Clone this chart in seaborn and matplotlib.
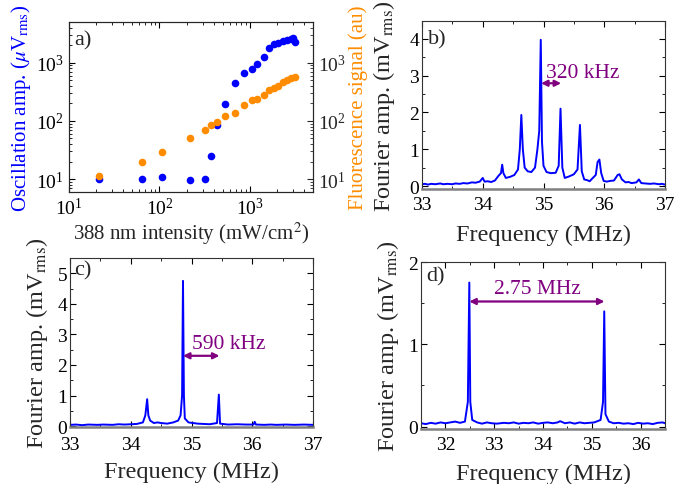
import numpy as np
import pandas as pd
import matplotlib
matplotlib.use("Agg")
import matplotlib.pyplot as plt
from matplotlib.ticker import MultipleLocator
import seaborn as sns

# ---------------- data ----------------
# panel a
intensity = [21.7, 65, 108, 217, 321, 369, 437, 537, 687, 865, 1045, 1209,
             1432, 1641, 1864, 2064, 2305, 2554, 2855, 3030, 3162]
osc_amp = [10, 10, 10.7, 9.6, 10, 25, 84, 196, 452, 654, 788, 935,
           1253, 1790, 2128, 2212, 2329, 2492, 2594, 2697, 2276]
fluo_int = [21.7, 65, 108, 217, 321, 369, 437, 537, 687, 865, 1045, 1209,
            1432, 1641, 1864, 2064, 2305, 2554, 2855, 3162]
fluo_sig = [11.1, 19.4, 29.2, 50.9, 70.8, 85, 97, 120, 139, 186, 230, 239,
            284, 338, 371, 396, 457, 509, 545, 574]

# panel b spectrum (MHz, mV rms)
freq_b = [33.00, 33.05, 33.10, 33.15, 33.22, 33.30, 33.35, 33.42, 33.50, 33.55,
          33.62, 33.68, 33.75, 33.82, 33.88, 33.95, 34.00, 34.03, 34.08, 34.14,
          34.20, 34.26, 34.30, 34.32, 34.34, 34.38, 34.45, 34.52, 34.58, 34.61,
          34.635, 34.66, 34.69, 34.74, 34.80, 34.86, 34.90, 34.93, 34.955, 34.975,
          35.00, 35.05, 35.12, 35.20, 35.25, 35.28, 35.31, 35.35, 35.42, 35.50,
          35.56, 35.60, 35.63, 35.67, 35.72, 35.76, 35.80, 35.86, 35.89, 35.92,
          35.95, 35.99, 36.04, 36.10, 36.16, 36.22, 36.25, 36.29, 36.35, 36.40,
          36.45, 36.53, 36.57, 36.61, 36.68, 36.75, 36.82, 36.90, 36.95, 37.00]
amp_b = [0.05, 0.06, 0.04, 0.06, 0.05, 0.07, 0.05, 0.06, 0.05, 0.07,
         0.06, 0.08, 0.07, 0.10, 0.09, 0.12, 0.22, 0.12, 0.13, 0.11,
         0.15, 0.28, 0.35, 0.58, 0.35, 0.22, 0.25, 0.30, 0.45, 1.00,
         1.93, 1.00, 0.50, 0.40, 0.38, 0.50, 1.00, 1.50, 3.97, 1.20,
         0.55, 0.38, 0.35, 0.36, 0.55, 2.10, 0.50, 0.22, 0.26, 0.32,
         0.45, 1.66, 0.40, 0.18, 0.16, 0.13, 0.20, 0.30, 0.65, 0.72,
         0.35, 0.14, 0.12, 0.14, 0.15, 0.30, 0.32, 0.18, 0.10, 0.11,
         0.08, 0.10, 0.18, 0.08, 0.07, 0.06, 0.07, 0.05, 0.06, 0.04]

# panel c spectrum
freq_c = [33.0, 33.1, 33.2, 33.3, 33.45, 33.55, 33.7, 33.8, 33.9, 34.0, 34.1,
          34.2, 34.24, 34.27, 34.29, 34.32, 34.38, 34.44, 34.5, 34.6, 34.7,
          34.78, 34.82, 34.845, 34.86, 34.875, 34.89, 34.95, 35.1, 35.2, 35.3,
          35.42, 35.45, 35.47, 35.6, 35.75, 35.9, 36.02, 36.04, 36.06, 36.2,
          36.3, 36.4, 36.55, 36.7, 36.85, 37.0]
amp_c = [0.04, 0.05, 0.03, 0.05, 0.04, 0.05, 0.04, 0.06, 0.05, 0.06, 0.07,
         0.12, 0.35, 0.88, 0.35, 0.18, 0.10, 0.12, 0.10, 0.08, 0.12,
         0.18, 0.35, 1.00, 4.75, 1.00, 0.25, 0.12, 0.08, 0.07, 0.06,
         0.10, 1.03, 0.08, 0.05, 0.06, 0.05, 0.05, 0.14, 0.05, 0.04,
         0.05, 0.04, 0.05, 0.04, 0.05, 0.04]

# panel d spectrum
freq_d = [31.5, 31.6, 31.7, 31.8, 31.9, 32.0, 32.1, 32.2, 32.3, 32.4, 32.46,
          32.49, 32.51, 32.55, 32.65, 32.75, 32.85, 32.95, 33.05, 33.2, 33.3,
          33.4, 33.5, 33.6, 33.7, 33.8, 33.9, 34.0, 34.1, 34.2, 34.3, 34.35,
          34.45, 34.55, 34.65, 34.75, 34.85, 34.95, 35.05, 35.18, 35.23, 35.255,
          35.28, 35.35, 35.45, 35.55, 35.65, 35.75, 35.85, 35.95, 36.05, 36.15,
          36.25, 36.35, 36.45, 36.5]
amp_d = [0.04, 0.03, 0.045, 0.035, 0.05, 0.04, 0.05, 0.06, 0.045, 0.06, 0.30,
         1.75, 0.30, 0.08, 0.05, 0.035, 0.05, 0.04, 0.035, 0.045, 0.04,
         0.05, 0.035, 0.045, 0.04, 0.05, 0.035, 0.045, 0.05, 0.04, 0.05, 0.065,
         0.04, 0.05, 0.035, 0.05, 0.04, 0.045, 0.05, 0.08, 0.30, 1.40,
         0.15, 0.06, 0.04, 0.045, 0.035, 0.04, 0.03, 0.045, 0.035, 0.04,
         0.03, 0.045, 0.05, 0.04]

# annotations
spacing_b = (34.96, 35.29, 2.79, "320 kHz")
spacing_c = (34.86, 35.46, 2.30, "590 kHz")
spacing_d = (32.49, 35.26, 1.52, "2.75 MHz")

# ---------------- style ----------------
sns.set_style("ticks")
plt.rcParams["font.family"] = ["Liberation Serif", "DejaVu Serif"]
plt.rcParams["mathtext.fontset"] = "stix"
plt.rcParams["axes.linewidth"] = 0.8
TICK = 14
LAB_A = 15
LAB = 17.5
PANEL = 16
ANN = 15.5
BLUE = "#0000FF"
ORANGE = "#FF8C00"
PURPLE = "#800080"
W, H = 675, 485

fig = plt.figure(figsize=(W / 100, H / 100), dpi=100)


def rect(l, r, t, b):
    return [l / W, (H - b) / H, (r - l) / W, (b - t) / H]


def style_ax(ax):
    ax.tick_params(which="both", direction="in", top=True, right=True,
                   labelsize=TICK, colors="black")
    ax.tick_params(which="major", length=4, width=0.8)
    ax.tick_params(which="minor", length=2.2, width=0.6)
    for s in ax.spines.values():
        s.set_color("#333333")


def spectrum(ax, f, a, xlim, ylim, xmaj, ymaj, yminor, xpad, ypad, tpad=5):
    df = pd.DataFrame({"f": f, "a": a})
    sns.lineplot(data=df, x="f", y="a", ax=ax, color=BLUE, lw=1.4,
                 estimator=None, sort=False)
    ax.set_xlim(*xlim)
    ax.set_ylim(*ylim)
    ax.xaxis.set_major_locator(MultipleLocator(xmaj))
    ax.xaxis.set_minor_locator(MultipleLocator(0.5))
    ax.yaxis.set_major_locator(MultipleLocator(ymaj))
    ax.yaxis.set_minor_locator(MultipleLocator(yminor))
    style_ax(ax)
    ax.tick_params(axis="x", pad=tpad)
    ax.tick_params(axis="y", pad=2)
    ax.spines["bottom"].set_color("#808080")
    ax.spines["bottom"].set_linewidth(1.8)
    ax.set_xlabel("Frequency (MHz)", fontsize=LAB, labelpad=xpad)
    ax.set_ylabel(r"Fourier amp. (mV$_{\rm rms}$)", fontsize=LAB, labelpad=ypad)


def arrow(ax, spec, tx, ty, ha="left"):
    x0, x1, y, txt = spec
    ax.annotate("", xy=(x1, y), xytext=(x0, y),
                arrowprops=dict(arrowstyle="<|-|>", color=PURPLE, lw=1.6,
                                shrinkA=0, shrinkB=0, mutation_scale=9))
    ax.text(tx, ty, txt, color=PURPLE, fontsize=ANN, ha=ha, va="baseline")


# ---- panel a ----
axa = fig.add_axes(rect(69, 313, 23, 193))
axa2 = axa.twinx()
dfa = pd.DataFrame({"x": intensity, "y": osc_amp})
dff = pd.DataFrame({"x": fluo_int, "y": fluo_sig})
sns.scatterplot(data=dfa, x="x", y="y", ax=axa, color=BLUE, s=30, linewidth=0)
sns.scatterplot(data=dff, x="x", y="y", ax=axa2, color=ORANGE, s=30, linewidth=0)
for ax in (axa, axa2):
    ax.set_xscale("log")
    ax.set_yscale("log")
    ax.set_xlim(10, 5000)
    ax.set_ylim(6, 5000)
style_ax(axa)
axa.tick_params(which="both", right=False)
axa2.tick_params(which="both", direction="in", right=True, left=False,
                 labelsize=TICK)
axa2.tick_params(which="major", length=4, width=0.8)
axa2.tick_params(which="minor", length=2.2, width=0.6)
axa.set_xlabel(r"388 nm intensity (mW/cm$^2$)", fontsize=LAB_A, labelpad=1)
axa.set_ylabel(r"Oscillation amp. ($\mu$V$_{\rm rms}$)", fontsize=LAB_A,
               color=BLUE, labelpad=2)
axa2.set_ylabel("Fluorescence signal (au)", fontsize=LAB_A, color=ORANGE,
                labelpad=2)
axa.text(0.02, 0.95, "a)", transform=axa.transAxes, fontsize=PANEL,
         va="top", ha="left")

# ---- panel b ----
axb = fig.add_axes(rect(422, 665, 22, 190))
spectrum(axb, freq_b, amp_b, (33, 37), (-0.08, 4.48), 1, 1, 0.5, 8, 9)
arrow(axb, spacing_b, 35.04, 2.95)
axb.text(0.025, 0.95, "b)", transform=axb.transAxes, fontsize=PANEL,
         va="top", ha="left")

# ---- panel c ----
axc = fig.add_axes(rect(70, 313, 259, 428))
spectrum(axc, freq_c, amp_c, (33, 37), (-0.03, 5.5), 1, 1, 0.5, 5.5, 5, tpad=6.5)
arrow(axc, spacing_c, 35.0, 2.57)
axc.text(0.015, 0.985, "c)", transform=axc.transAxes, fontsize=PANEL,
         va="top", ha="left")

# ---- panel d ----
axd = fig.add_axes(rect(421, 665, 263, 430))
spectrum(axd, freq_d, amp_d, (31.5, 36.5), (-0.03, 2.0), 1, 1, 0.5, 7, 5)
arrow(axd, spacing_d, 33.88, 1.62, ha="center")
axd.text(0.02, 0.975, "d)", transform=axd.transAxes, fontsize=PANEL,
         va="top", ha="left")

fig.savefig("out.png", dpi=100)
